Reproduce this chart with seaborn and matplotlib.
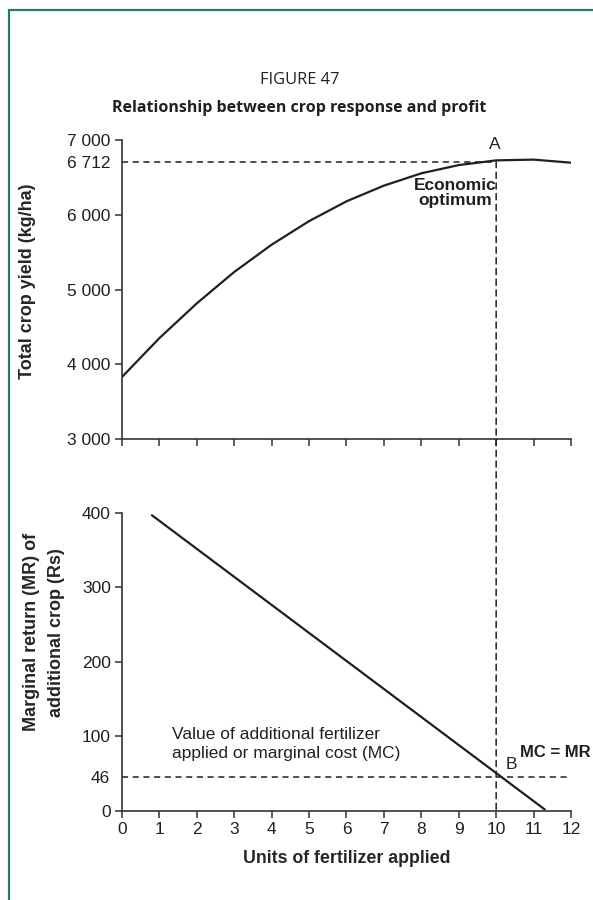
import matplotlib
matplotlib.use('Agg')
import matplotlib.pyplot as plt
import seaborn as sns
import pandas as pd
from matplotlib.lines import Line2D
from matplotlib.patches import ConnectionPatch

# yield curve (kg/ha per unit of fertilizer)
units = [0, 1, 2, 3, 4, 5, 6, 7, 8, 9, 10, 11, 12]
yield_kg = [3830, 4350, 4815, 5235, 5600, 5915, 6180, 6390, 6555, 6665, 6728, 6738, 6697]

# marginal return line (Rs)
mr_units = [0.8, 11.3]
mr_rs = [397, 2]

optimum_units = 10
optimum_yield = 6712
marginal_cost = 46

yield_ticks = [3000, 4000, 5000, 6000, 7000]
mr_ticks = [0, 100, 200, 300, 400]
unit_ticks = list(range(13))

sns.set_style('ticks')
plt.rcParams['font.family'] = ['Liberation Sans', 'DejaVu Sans']

fig = plt.figure(figsize=(5.93, 9), dpi=100)
ax1 = fig.add_axes([0.2057, 0.5122, 0.7572, 0.3322])
ax2 = fig.add_axes([0.2057, 0.0989, 0.7572, 0.3311])

ink = '#231f20'
df1 = pd.DataFrame({'units': units, 'yield': yield_kg})
df2 = pd.DataFrame({'units': mr_units, 'mr': mr_rs})
sns.lineplot(data=df1, x='units', y='yield', ax=ax1, color=ink, linewidth=1.6)
sns.lineplot(data=df2, x='units', y='mr', ax=ax2, color=ink, linewidth=1.6)

def fmt(v):
    return f'{v:,}'.replace(',', ' ')

for ax in (ax1, ax2):
    sns.despine(ax=ax)
    ax.set_xlim(0, 12)
    ax.set_xticks(unit_ticks)
    for s in ('left', 'bottom'):
        ax.spines[s].set_color('#333333')
        ax.spines[s].set_linewidth(1.2)
    ax.tick_params(which='major', length=5, width=1.1, color='#333333',
                   labelsize=12.5, labelcolor=ink, pad=3)
    ax.tick_params(which='minor', length=0, labelsize=12.5, labelcolor=ink, pad=8.6)
    ax.set_xlabel('')
    ax.set_ylabel('')

ax1.set_ylim(3000, 7000)
ax1.set_yticks(yield_ticks, labels=[fmt(v) for v in yield_ticks])
ax1.set_yticks([optimum_yield], labels=[fmt(optimum_yield)], minor=True)
ax1.tick_params(axis='x', labelbottom=False)
ax1.set_ylabel('Total crop yield (kg/ha)', fontsize=13, fontweight='bold', labelpad=22)
ax1.yaxis.label.set_y(0.527)

ax2.set_ylim(0, 400)
ax2.set_yticks(mr_ticks, labels=[str(v) for v in mr_ticks])
ax2.set_yticks([marginal_cost], labels=[str(marginal_cost)], minor=True)
ax2.set_xticklabels([str(v) for v in unit_ticks])
ax2.set_ylabel('Marginal return (MR) of\nadditional crop (Rs)', fontsize=13,
               fontweight='bold', labelpad=12, linespacing=1.6)
ax2.yaxis.label.set_y(0.60)
ax2.set_xlabel('Units of fertilizer applied', fontsize=12.8, fontweight='bold', labelpad=9)

# guide lines
dash = dict(color=ink, linewidth=1.1, linestyle=(0, (4, 3)))
ax1.plot([0, optimum_units], [optimum_yield, optimum_yield], **dash)
ax2.plot([0, 12], [marginal_cost, marginal_cost], **dash)
con = ConnectionPatch(xyA=(optimum_units, optimum_yield), coordsA=ax1.transData,
                      xyB=(optimum_units, 0), coordsB=ax2.transData, **dash)
fig.add_artist(con)

ax1.text(9.95, 6840, 'A', fontsize=12.5, color=ink, ha='center', va='bottom')
ax1.text(8.9, 6290, 'Economic\noptimum', fontsize=12.5, fontweight='bold', color=ink,
         ha='center', va='center', linespacing=0.95)
ax2.text(10.25, 52, 'B', fontsize=12.5, color=ink, ha='left', va='bottom')
ax2.text(10.65, 79, 'MC = MR', fontsize=12, fontweight='bold', color=ink,
         ha='left', va='center', clip_on=False)
ax2.text(1.35, 90, 'Value of additional fertilizer\napplied or marginal cost (MC)',
         fontsize=12.5, color=ink, ha='left', va='center', linespacing=1.3)

fig.text(0.505, 0.911, 'FIGURE 47', fontsize=11.8, color=ink, ha='center', va='center',
         family=['Open Sans', 'DejaVu Sans'])
fig.text(0.505, 0.880, 'Relationship between crop response and profit', fontsize=11.5,
         fontweight='bold', color=ink, ha='center', va='center',
         family=['Open Sans', 'DejaVu Sans'])

# frame lines of the figure box
teal = '#1f7c70'
x0, y0 = 9 / 593, 1 - 10 / 900
fig.add_artist(Line2D([x0, 1], [y0, y0], transform=fig.transFigure, color=teal, linewidth=1.6))
fig.add_artist(Line2D([x0, x0], [0, y0], transform=fig.transFigure, color=teal, linewidth=1.6))

fig.savefig('out.png', dpi=100)
